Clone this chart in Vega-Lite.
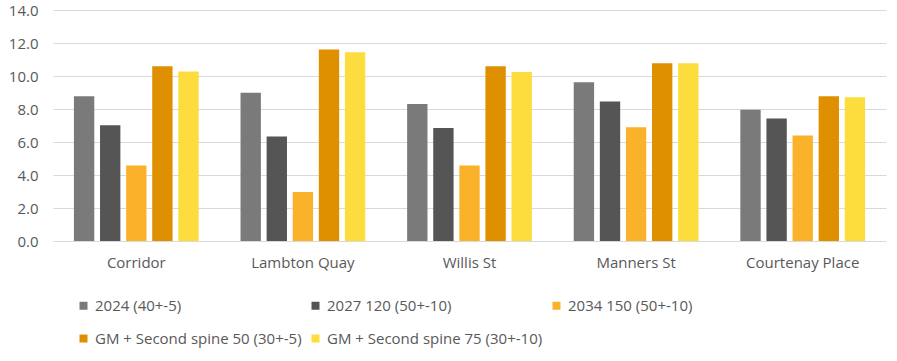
{
  "$schema": "https://vega.github.io/schema/vega-lite/v6.json",
  "width": 833,
  "height": 231,
  "autosize": {"type": "none"},
  "padding": {"left": 53, "top": 10, "right": 11, "bottom": 120},
  "background": "white",
  "config": {
    "view": {"stroke": null},
    "font": "Open Sans",
    "axis": {"labelFont": "Open Sans", "labelColor": "#595959", "labelFontSize": 15}
  },
  "data": {
    "values": [
      {"location": "Corridor", "scenario": "2024 (40+-5)", "value": 8.77},
      {"location": "Corridor", "scenario": "2027 120 (50+-10)", "value": 7.01},
      {"location": "Corridor", "scenario": "2034 150 (50+-10)", "value": 4.57},
      {"location": "Corridor", "scenario": "GM + Second spine 50 (30+-5)", "value": 10.59},
      {"location": "Corridor", "scenario": "GM + Second spine 75 (30+-10)", "value": 10.27},
      {"location": "Lambton Quay", "scenario": "2024 (40+-5)", "value": 8.99},
      {"location": "Lambton Quay", "scenario": "2027 120 (50+-10)", "value": 6.33},
      {"location": "Lambton Quay", "scenario": "2034 150 (50+-10)", "value": 2.97},
      {"location": "Lambton Quay", "scenario": "GM + Second spine 50 (30+-5)", "value": 11.6},
      {"location": "Lambton Quay", "scenario": "GM + Second spine 75 (30+-10)", "value": 11.44},
      {"location": "Willis St", "scenario": "2024 (40+-5)", "value": 8.3},
      {"location": "Willis St", "scenario": "2027 120 (50+-10)", "value": 6.85},
      {"location": "Willis St", "scenario": "2034 150 (50+-10)", "value": 4.57},
      {"location": "Willis St", "scenario": "GM + Second spine 50 (30+-5)", "value": 10.59},
      {"location": "Willis St", "scenario": "GM + Second spine 75 (30+-10)", "value": 10.24},
      {"location": "Manners St", "scenario": "2024 (40+-5)", "value": 9.62},
      {"location": "Manners St", "scenario": "2027 120 (50+-10)", "value": 8.45},
      {"location": "Manners St", "scenario": "2034 150 (50+-10)", "value": 6.89},
      {"location": "Manners St", "scenario": "GM + Second spine 50 (30+-5)", "value": 10.77},
      {"location": "Manners St", "scenario": "GM + Second spine 75 (30+-10)", "value": 10.77},
      {"location": "Courtenay Place", "scenario": "2024 (40+-5)", "value": 7.96},
      {"location": "Courtenay Place", "scenario": "2027 120 (50+-10)", "value": 7.42},
      {"location": "Courtenay Place", "scenario": "2034 150 (50+-10)", "value": 6.39},
      {"location": "Courtenay Place", "scenario": "GM + Second spine 50 (30+-5)", "value": 8.77},
      {"location": "Courtenay Place", "scenario": "GM + Second spine 75 (30+-10)", "value": 8.71}
    ]
  },
  "mark": {"type": "bar"},
  "encoding": {
    "x": {
      "field": "location",
      "type": "nominal",
      "sort": ["Corridor", "Lambton Quay", "Willis St", "Manners St", "Courtenay Place"],
      "scale": {"paddingInner": 0.22, "paddingOuter": 0.11},
      "axis": {"title": null, "labelAngle": 0, "domain": false, "ticks": false, "tickSize": 0, "labelPadding": 14, "grid": false}
    },
    "xOffset": {
      "field": "scenario",
      "type": "nominal",
      "sort": ["2024 (40+-5)", "2027 120 (50+-10)", "2034 150 (50+-10)", "GM + Second spine 50 (30+-5)", "GM + Second spine 75 (30+-10)"],
      "scale": {"paddingInner": 0.22, "paddingOuter": 0.1}
    },
    "y": {
      "field": "value",
      "type": "quantitative",
      "scale": {"domain": [0, 14], "nice": false},
      "axis": {
        "title": null,
        "values": [0, 2, 4, 6, 8, 10, 12, 14],
        "format": ".1f",
        "domain": false,
        "ticks": false,
        "tickSize": 0,
        "labelPadding": 15,
        "gridColor": "#d9d9d9",
        "gridWidth": 1.2
      }
    },
    "color": {
      "field": "scenario",
      "type": "nominal",
      "sort": ["2024 (40+-5)", "2027 120 (50+-10)", "2034 150 (50+-10)", "GM + Second spine 50 (30+-5)", "GM + Second spine 75 (30+-10)"],
      "scale": {
        "domain": ["2024 (40+-5)", "2027 120 (50+-10)", "2034 150 (50+-10)", "GM + Second spine 50 (30+-5)", "GM + Second spine 75 (30+-10)"],
        "range": ["#7a7a7a", "#555555", "#fbb22b", "#de9000", "#fddd3d"]
      },
      "legend": {
        "title": null,
        "orient": "none",
        "legendX": 23,
        "legendY": 288,
        "direction": "horizontal",
        "columns": 3,
        "columnPadding": 6,
        "rowPadding": 17,
        "symbolType": "square",
        "symbolSize": 64,
        "symbolStrokeWidth": 0,
        "labelOffset": 4,
        "labelFont": "Open Sans",
        "labelFontSize": 15,
        "labelColor": "#595959",
        "labelLimit": 400
      }
    }
  }
}
